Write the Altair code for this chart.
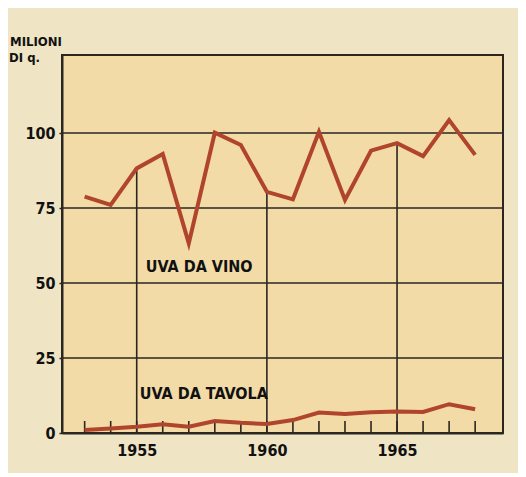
import altair as alt
import pandas as pd

years = list(range(1953, 1969))
uva_vino = [78.8, 76.0, 88.2, 93.0, 63.2, 100.1, 96.0, 80.4, 77.9, 100.4, 77.7, 94.1, 96.6, 92.3, 104.3, 92.7]
uva_tavola = [1.0, 1.5, 2.1, 2.9, 2.1, 4.0, 3.4, 3.0, 4.3, 6.8, 6.3, 6.9, 7.2, 7.0, 9.6, 7.9]
grid_years = [1955, 1960, 1965]
y_ticks = [0, 25, 50, 75, 100]
x_ticks = [1955, 1960, 1965]
series_labels = ["UVA DA VINO", "UVA DA TAVOLA"]
label_x = [1955.35, 1955.12]
label_y = [55.3, 13.0]
unit_lines = ["MILIONI", "DI  q."]

W, H = 441, 378
RED = "#b0452c"
INK = "#2b2620"
FONT = "DejaVu Sans Condensed"

df = pd.DataFrame({"anno": years, "vino": uva_vino, "tavola": uva_tavola})
long = df.melt("anno", var_name="serie", value_name="valore")
grid_df = pd.DataFrame({"anno": grid_years,
                        "top": [uva_vino[years.index(y)] for y in grid_years]})
hgrid_df = pd.DataFrame({"v": y_ticks[1:]})
lab_df = pd.DataFrame({"testo": series_labels, "x": label_x, "y": label_y})
yr_df = pd.DataFrame({"anno": years})
one_df = pd.DataFrame({"k": [0]})

xs = alt.Scale(domain=[1952.13, 1969.07], nice=False, zero=False)
ys = alt.Scale(domain=[0, 126], nice=False)

xax = alt.Axis(values=x_ticks, format="d", grid=False, tickSize=0, labelPadding=9,
               labelFontSize=16, labelFont=FONT, labelColor="#111111", labelFontWeight="bold",
               domainColor=INK, domainWidth=2, title=None)
yax = alt.Axis(values=y_ticks, grid=False, tickSize=3, tickColor=INK, tickWidth=1.5,
               labelPadding=4, labelFontSize=16, labelFont=FONT, labelColor="#111111",
               labelFontWeight="bold", domainColor=INK, domainWidth=2, title=None)

hgrid = alt.Chart(hgrid_df).mark_rule(color=INK, strokeWidth=1.6).encode(
    y=alt.Y("v:Q", scale=ys, axis=yax),
    x=alt.value(0), x2=alt.value(W))

vgrid = alt.Chart(grid_df).mark_rule(color=INK, strokeWidth=1.6).encode(
    x=alt.X("anno:Q", scale=xs, axis=xax),
    y=alt.Y("top:Q", scale=ys), y2=alt.datum(0))

ticks = alt.Chart(yr_df).mark_rule(color=INK, strokeWidth=1.6).encode(
    x=alt.X("anno:Q", scale=xs),
    y=alt.value(H), y2=alt.value(H - 12))

lines = alt.Chart(long).mark_line(color=RED, strokeWidth=4, strokeJoin="miter").encode(
    x=alt.X("anno:Q", scale=xs),
    y=alt.Y("valore:Q", scale=ys),
    detail="serie:N")

labels = alt.Chart(lab_df).mark_text(align="left", baseline="middle", fontSize=16,
                                     font=FONT, fontWeight="bold", color="#111111").encode(
    x=alt.X("x:Q", scale=xs), y=alt.Y("y:Q", scale=ys), text="testo:N")

unit1 = alt.Chart(one_df).mark_text(align="left", baseline="middle", fontSize=13,
                                    font=FONT, fontWeight="bold", color="#111111").encode(
    x=alt.value(-52), y=alt.value(-13), text=alt.value(unit_lines[0]))
unit2 = alt.Chart(one_df).mark_text(align="left", baseline="middle", fontSize=13,
                                    font=FONT, fontWeight="bold", color="#111111").encode(
    x=alt.value(-53), y=alt.value(3), text=alt.value(unit_lines[1]))
edge = alt.Chart(one_df).mark_rule(color="#6b6250", strokeWidth=1.5, opacity=0.8).encode(
    x=alt.value(-55), y=alt.value(-47), y2=alt.value(H + 40))

chart = alt.layer(hgrid, vgrid, ticks, lines, labels, unit1, unit2, edge).properties(
    width=W, height=H,
    autosize=alt.AutoSizeParams(type="none"),
    padding={"left": 54, "top": 47, "right": 15, "bottom": 40},
    background="#efe4c4",
).configure_view(fill="#f2dba7", stroke=INK, strokeWidth=2)

chart.save("out.html", embed_options={"renderer": "svg", "actions": False})
